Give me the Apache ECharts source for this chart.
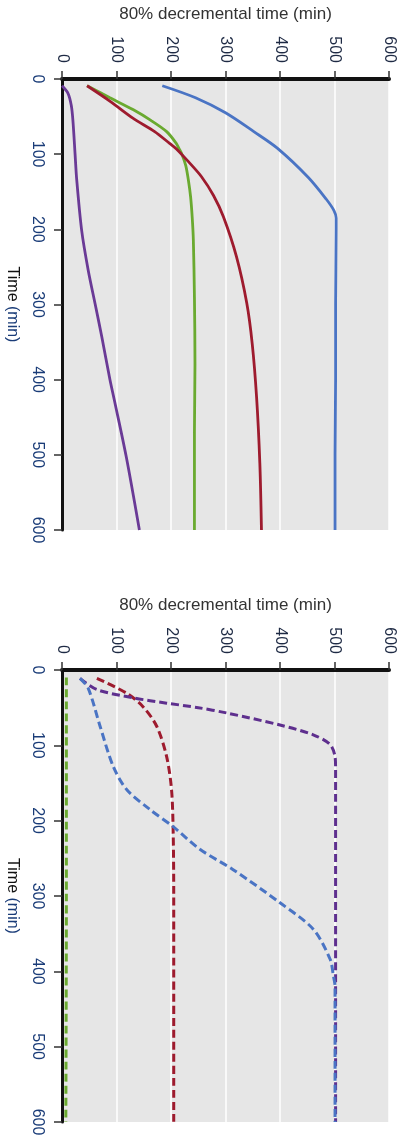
<!DOCTYPE html>
<html><head><meta charset="utf-8">
<script src="https://cdn.jsdelivr.net/npm/echarts@6/dist/echarts.min.js"></script>
<style>html,body{margin:0;padding:0;background:#fff}#c{width:397px;height:1139px}</style>
</head><body><div id="c"></div>
<script>
// Top panel (solid lines): time (min) and 80% decremental time (min)
const blueSolidT = [9, 25, 45, 70, 92, 131, 160, 175, 185, 200, 300, 400, 500, 600];
const blueSolidV = [184, 245, 300, 352, 395, 452, 485, 499, 503, 503, 502, 502, 501, 501];
const redSolidT = [9, 30, 52, 70, 86, 93, 110, 130, 155, 183, 236, 298, 352, 423, 511, 600];
const redSolidV = [46, 89, 130, 170, 198, 210, 232, 256, 278, 296, 320, 339, 349, 357, 363, 366];
const greenSolidT = [9, 25, 41, 55, 70, 85, 93, 100, 115, 135, 157, 185, 214, 290, 380, 470, 600];
const greenSolidV = [46, 88, 131, 163, 192, 209, 215, 220, 227, 232, 236, 239, 241, 243, 244, 243, 243];
const purpleSolidT = [9, 19, 35, 55, 100, 134, 201, 254, 300, 343, 400, 427, 503, 600];
const purpleSolidV = [0, 11, 17, 20, 24, 27, 36, 48, 61, 73, 88, 96, 118, 142];
// Bottom panel (dashed lines)
const greenDashT = [10, 300, 600];
const greenDashV = [8, 8, 7];
const redDashT = [11, 31, 49, 75, 115, 159, 216, 300, 600];
const redDashV = [64, 119, 149, 174, 192, 201, 204, 205, 205];
const blueDashT = [11, 24, 75, 128, 159, 185, 208, 238, 265, 309, 344, 384, 406, 420, 600];
const blueDashV = [33, 48, 70, 94, 119, 161, 204, 253, 314, 400, 461, 492, 498, 501, 501];
const purpleDashT = [11, 26, 37, 44, 50, 57, 73, 86, 99, 115, 130, 600];
const purpleDashV = [33, 64, 131, 192, 250, 302, 400, 461, 492, 501, 502, 502];
// Axis ticks
const axisMin = 0, axisMax = 600, axisStep = 100;
const xName = '80% decremental time (min)';

const FONT = 'Liberation Sans, Arial, sans-serif';
const pairs = (v, t) => v.map((x, i) => [x, t[i]]);

function xAx(gi) {
  return {
    type: 'value', gridIndex: gi, position: 'top', min: axisMin, max: axisMax, interval: axisStep,
    name: xName, nameLocation: 'middle', nameGap: 56,
    nameTextStyle: { fontFamily: FONT, fontSize: 17, color: '#333' },
    axisLine: { show: true, lineStyle: { color: '#111', width: 4 } },
    axisTick: { show: true, length: 8, lineStyle: { color: '#333', width: 1.5 } },
    axisLabel: { rotate: -90, margin: 16, fontFamily: FONT, fontSize: 16, color: '#1e2a44' },
    splitLine: { show: true, lineStyle: { color: '#ffffff', width: 1.5 } }
  };
}
function yAx(gi) {
  return {
    type: 'value', gridIndex: gi, inverse: true, min: axisMin, max: axisMax, interval: axisStep,
    name: '{a|Time} {b|(min)}', nameLocation: 'middle', nameRotate: -90, nameGap: 42,
    nameTextStyle: { fontFamily: FONT, fontSize: 16, rich: {
      a: { fontFamily: FONT, fontSize: 16, color: '#111' },
      b: { fontFamily: FONT, fontSize: 16, color: '#1a3c78' } } },
    axisLine: { show: true, lineStyle: { color: '#111', width: 3 } },
    axisTick: { show: true, length: 8, lineStyle: { color: '#333', width: 1.5 } },
    axisLabel: { rotate: -90, margin: 17, fontFamily: FONT, fontSize: 16, color: '#1a3c78' },
    splitLine: { show: false }
  };
}
function ser(gi, data, color, dashed) {
  return {
    type: 'line', xAxisIndex: gi, yAxisIndex: gi, data, showSymbol: false, symbol: 'none',
    smooth: 0.3, clip: true, animation: false,
    lineStyle: { color, width: dashed ? 3 : 2.8, type: dashed ? [8, 4] : 'solid', cap: 'butt' }
  };
}

const chart = echarts.init(document.getElementById('c'), null, { renderer: 'canvas' });
chart.setOption({
  animation: false,
  backgroundColor: '#fff',
  grid: [
    { left: 62, width: 327, top: 79, height: 451, show: true, backgroundColor: '#e6e6e6', borderWidth: 0, containLabel: false, outerBoundsMode: 'none' },
    { left: 62, width: 327, top: 670, height: 452, show: true, backgroundColor: '#e6e6e6', borderWidth: 0, containLabel: false, outerBoundsMode: 'none' }
  ],
  xAxis: [xAx(0), xAx(1)],
  yAxis: [yAx(0), yAx(1)],
  series: [
    ser(0, pairs(purpleSolidV, purpleSolidT), '#6a3a96', false),
    ser(0, pairs(greenSolidV, greenSolidT), '#6aaa30', false),
    ser(0, pairs(redSolidV, redSolidT), '#9e1b2e', false),
    ser(0, pairs(blueSolidV, blueSolidT), '#4a74c4', false),
    ser(1, pairs(greenDashV, greenDashT), '#6aaa30', true),
    ser(1, pairs(redDashV, redDashT), '#9e1b2e', true),
    ser(1, pairs(purpleDashV, purpleDashT), '#5e2f8e', true),
    ser(1, pairs(blueDashV, blueDashT), '#4a74c4', true)
  ]
});
</script></body></html>
